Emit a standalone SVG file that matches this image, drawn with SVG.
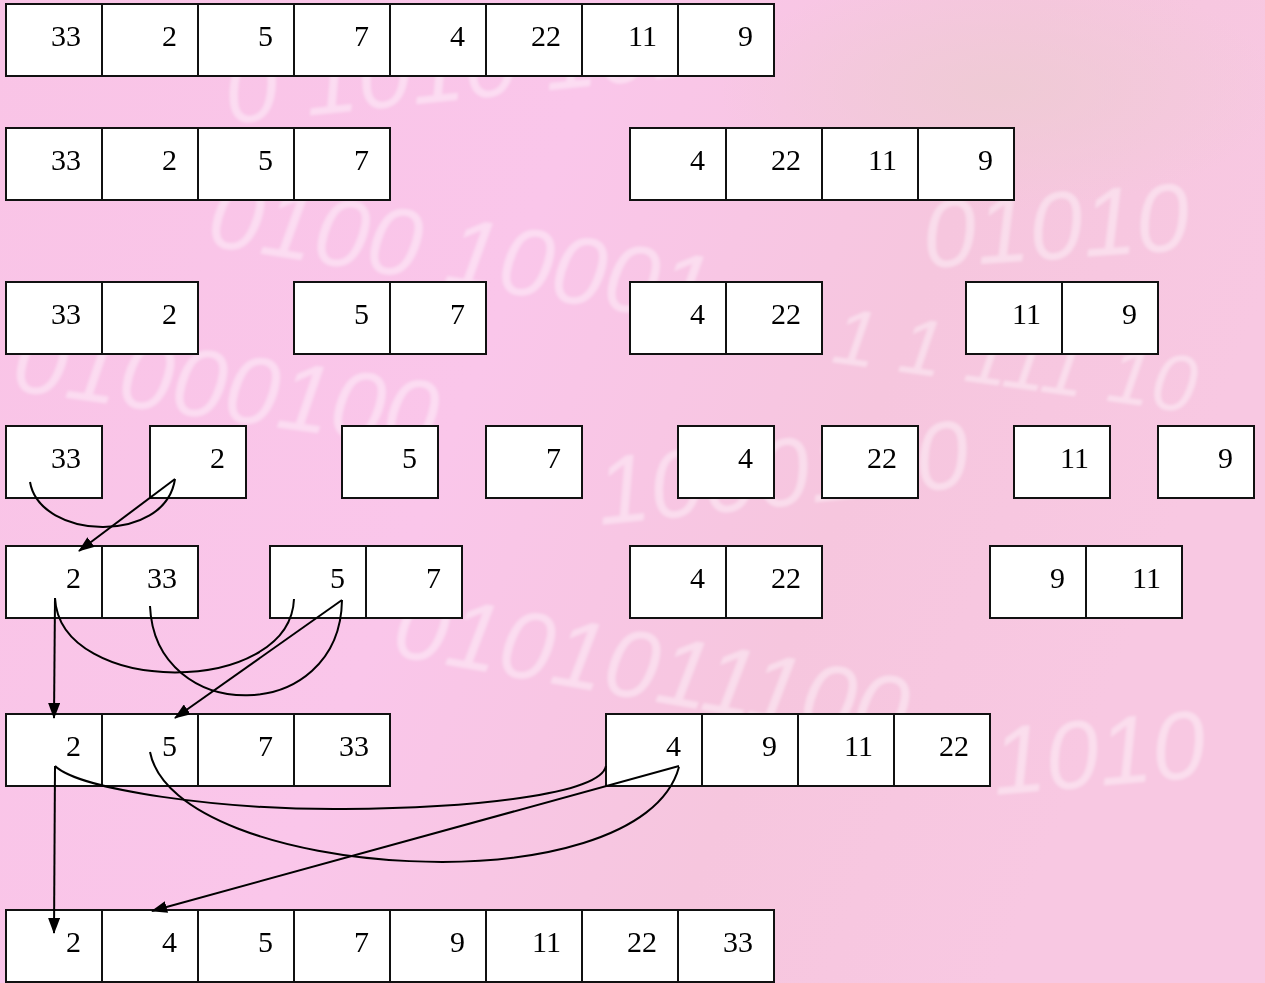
<svg xmlns="http://www.w3.org/2000/svg" width="1265" height="983" viewBox="0 0 1265 983">
<style>
.c{fill:#ffffff;stroke:#111111;stroke-width:2}
.t{font-family:"Liberation Serif","Times New Roman",serif;font-size:30px;fill:#000000;text-anchor:end}
.w{font-family:"Liberation Sans",Arial,sans-serif;font-style:italic;font-size:96px;fill:#ffffff;opacity:0.4}
.ln{fill:none;stroke:#000000;stroke-width:2}
.ar{fill:none;stroke:#000000;stroke-width:2;marker-end:url(#ah)}
</style>
<defs>
<linearGradient id="bg" x1="0" y1="0" x2="1" y2="0.3">
<stop offset="0" stop-color="#f9c4e6"/>
<stop offset="0.45" stop-color="#fac6ea"/>
<stop offset="0.75" stop-color="#f6c6de"/>
<stop offset="1" stop-color="#f8c8e2"/>
</linearGradient>
<radialGradient id="gr" cx="0.5" cy="0.5" r="0.5">
<stop offset="0" stop-color="#eecbd4" stop-opacity="0.9"/>
<stop offset="1" stop-color="#eecbd4" stop-opacity="0"/>
</radialGradient>
<filter id="soft" x="-10%" y="-10%" width="120%" height="120%"><feGaussianBlur stdDeviation="1.8"/></filter>
<marker id="ah" markerUnits="userSpaceOnUse" markerWidth="16" markerHeight="12" refX="15" refY="6" orient="auto">
<path d="M0,0 L16,6 L0,12 z" fill="#000000"/>
</marker>
</defs>
<rect x="0" y="0" width="1265" height="983" fill="url(#bg)"/>
<ellipse cx="1000" cy="90" rx="280" ry="120" fill="url(#gr)"/>
<g id="watermark" filter="url(#soft)">
<text class="w" transform="translate(228,124) rotate(-6)">0 1010 101</text>
<text class="w" transform="translate(205,245) rotate(9)">0100 10001</text>
<text class="w" transform="translate(925,268) rotate(-4)">01010</text>
<text class="w" transform="translate(10,390) rotate(8)">01000100</text>
<text class="w" style="font-size:80px" transform="translate(830,362) rotate(8)">1 1 111 10</text>
<text class="w" transform="translate(600,525) rotate(-6)">1000100</text>
<text class="w" transform="translate(390,655) rotate(10)">0101011100</text>
<text class="w" transform="translate(995,795) rotate(-5)">1010</text>
</g>
<g id="row1">
<rect class="c" x="6" y="4" width="96" height="72"/><text class="t" x="81" y="46">33</text>
<rect class="c" x="102" y="4" width="96" height="72"/><text class="t" x="177" y="46">2</text>
<rect class="c" x="198" y="4" width="96" height="72"/><text class="t" x="273" y="46">5</text>
<rect class="c" x="294" y="4" width="96" height="72"/><text class="t" x="369" y="46">7</text>
<rect class="c" x="390" y="4" width="96" height="72"/><text class="t" x="465" y="46">4</text>
<rect class="c" x="486" y="4" width="96" height="72"/><text class="t" x="561" y="46">22</text>
<rect class="c" x="582" y="4" width="96" height="72"/><text class="t" x="657" y="46">11</text>
<rect class="c" x="678" y="4" width="96" height="72"/><text class="t" x="753" y="46">9</text>
</g>
<g id="row2-left">
<rect class="c" x="6" y="128" width="96" height="72"/><text class="t" x="81" y="170">33</text>
<rect class="c" x="102" y="128" width="96" height="72"/><text class="t" x="177" y="170">2</text>
<rect class="c" x="198" y="128" width="96" height="72"/><text class="t" x="273" y="170">5</text>
<rect class="c" x="294" y="128" width="96" height="72"/><text class="t" x="369" y="170">7</text>
</g>
<g id="row2-right">
<rect class="c" x="630" y="128" width="96" height="72"/><text class="t" x="705" y="170">4</text>
<rect class="c" x="726" y="128" width="96" height="72"/><text class="t" x="801" y="170">22</text>
<rect class="c" x="822" y="128" width="96" height="72"/><text class="t" x="897" y="170">11</text>
<rect class="c" x="918" y="128" width="96" height="72"/><text class="t" x="993" y="170">9</text>
</g>
<g id="row3-a">
<rect class="c" x="6" y="282" width="96" height="72"/><text class="t" x="81" y="324">33</text>
<rect class="c" x="102" y="282" width="96" height="72"/><text class="t" x="177" y="324">2</text>
</g>
<g id="row3-b">
<rect class="c" x="294" y="282" width="96" height="72"/><text class="t" x="369" y="324">5</text>
<rect class="c" x="390" y="282" width="96" height="72"/><text class="t" x="465" y="324">7</text>
</g>
<g id="row3-c">
<rect class="c" x="630" y="282" width="96" height="72"/><text class="t" x="705" y="324">4</text>
<rect class="c" x="726" y="282" width="96" height="72"/><text class="t" x="801" y="324">22</text>
</g>
<g id="row3-d">
<rect class="c" x="966" y="282" width="96" height="72"/><text class="t" x="1041" y="324">11</text>
<rect class="c" x="1062" y="282" width="96" height="72"/><text class="t" x="1137" y="324">9</text>
</g>
<g id="row4-a"><rect class="c" x="6" y="426" width="96" height="72"/><text class="t" x="81" y="468">33</text></g>
<g id="row4-b"><rect class="c" x="150" y="426" width="96" height="72"/><text class="t" x="225" y="468">2</text></g>
<g id="row4-c"><rect class="c" x="342" y="426" width="96" height="72"/><text class="t" x="417" y="468">5</text></g>
<g id="row4-d"><rect class="c" x="486" y="426" width="96" height="72"/><text class="t" x="561" y="468">7</text></g>
<g id="row4-e"><rect class="c" x="678" y="426" width="96" height="72"/><text class="t" x="753" y="468">4</text></g>
<g id="row4-f"><rect class="c" x="822" y="426" width="96" height="72"/><text class="t" x="897" y="468">22</text></g>
<g id="row4-g"><rect class="c" x="1014" y="426" width="96" height="72"/><text class="t" x="1089" y="468">11</text></g>
<g id="row4-h"><rect class="c" x="1158" y="426" width="96" height="72"/><text class="t" x="1233" y="468">9</text></g>
<g id="row5-a">
<rect class="c" x="6" y="546" width="96" height="72"/><text class="t" x="81" y="588">2</text>
<rect class="c" x="102" y="546" width="96" height="72"/><text class="t" x="177" y="588">33</text>
</g>
<g id="row5-b">
<rect class="c" x="270" y="546" width="96" height="72"/><text class="t" x="345" y="588">5</text>
<rect class="c" x="366" y="546" width="96" height="72"/><text class="t" x="441" y="588">7</text>
</g>
<g id="row5-c">
<rect class="c" x="630" y="546" width="96" height="72"/><text class="t" x="705" y="588">4</text>
<rect class="c" x="726" y="546" width="96" height="72"/><text class="t" x="801" y="588">22</text>
</g>
<g id="row5-d">
<rect class="c" x="990" y="546" width="96" height="72"/><text class="t" x="1065" y="588">9</text>
<rect class="c" x="1086" y="546" width="96" height="72"/><text class="t" x="1161" y="588">11</text>
</g>
<g id="row6-left">
<rect class="c" x="6" y="714" width="96" height="72"/><text class="t" x="81" y="756">2</text>
<rect class="c" x="102" y="714" width="96" height="72"/><text class="t" x="177" y="756">5</text>
<rect class="c" x="198" y="714" width="96" height="72"/><text class="t" x="273" y="756">7</text>
<rect class="c" x="294" y="714" width="96" height="72"/><text class="t" x="369" y="756">33</text>
</g>
<g id="row6-right">
<rect class="c" x="606" y="714" width="96" height="72"/><text class="t" x="681" y="756">4</text>
<rect class="c" x="702" y="714" width="96" height="72"/><text class="t" x="777" y="756">9</text>
<rect class="c" x="798" y="714" width="96" height="72"/><text class="t" x="873" y="756">11</text>
<rect class="c" x="894" y="714" width="96" height="72"/><text class="t" x="969" y="756">22</text>
</g>
<g id="row7">
<rect class="c" x="6" y="910" width="96" height="72"/><text class="t" x="81" y="952">2</text>
<rect class="c" x="102" y="910" width="96" height="72"/><text class="t" x="177" y="952">4</text>
<rect class="c" x="198" y="910" width="96" height="72"/><text class="t" x="273" y="952">5</text>
<rect class="c" x="294" y="910" width="96" height="72"/><text class="t" x="369" y="952">7</text>
<rect class="c" x="390" y="910" width="96" height="72"/><text class="t" x="465" y="952">9</text>
<rect class="c" x="486" y="910" width="96" height="72"/><text class="t" x="561" y="952">11</text>
<rect class="c" x="582" y="910" width="96" height="72"/><text class="t" x="657" y="952">22</text>
<rect class="c" x="678" y="910" width="96" height="72"/><text class="t" x="753" y="952">33</text>
</g>
<g id="connectors">
<path class="ln" d="M30,482 C40,540 165,545 175,479"/>
<path class="ar" d="M175,479 L79,551"/>
<path class="ln" d="M55,598 C60,697 290,697 294,599"/>
<path class="ln" d="M150,606 C155,726 340,726 342,600"/>
<path class="ar" d="M55,598 L54,718"/>
<path class="ar" d="M342,600 L175,718"/>
<path class="ln" d="M55,766 C80,790 220,810 344,809 C470,808 600,795 606,766"/>
<path class="ln" d="M150,752 C175,880 640,910 679,767"/>
<path class="ar" d="M55,766 L54,933"/>
<path class="ar" d="M679,766 L152,911"/>
</g>
</svg>
